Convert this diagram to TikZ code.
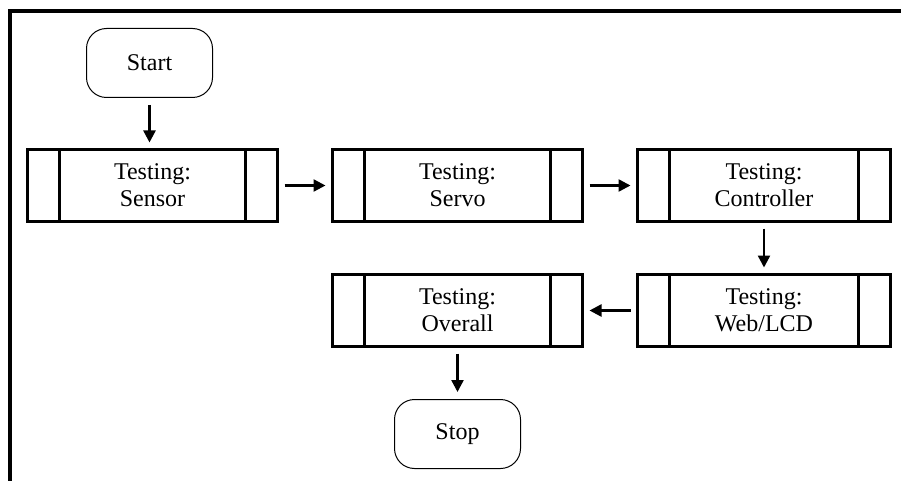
\documentclass[tikz,border=0pt]{standalone}
\usepackage{fontspec}
\setmainfont{Liberation Serif}
\usetikzlibrary{arrows.meta, positioning}
\tikzset{
    terminal/.style={
        rectangle,
        rounded corners=20pt,
        draw=black,
        line width=1pt,
        minimum width=126pt,
        minimum height=69pt,
        fill=white,
        font=\fontsize{24}{27}\selectfont
    },
    process/.style={
        rectangle,
        draw=black,
        line width=2.8pt,
        minimum width=250pt,
        minimum height=72pt,
        outer sep=0pt,
        align=center,
        fill=white,
        font=\fontsize{24}{27}\selectfont
    },
    partline/.style={
        draw=black,
        line width=2.2pt
    },
    flow/.style={
        draw=black,
        line width=2.4pt,
        shorten <=7pt,
        shorten >=7pt,
        -{Triangle[length=12pt,width=12pt]}
    },
    frame/.style={
        draw=black,
        line width=4pt
    }
}
\begin{document}
\begin{tikzpicture}[x=1pt, y=1pt, node distance=53pt and 55pt]
\useasboundingbox (0,0) rectangle (901,-481);

% Outer frame
\draw[frame] (10,-481) |- (901,-11);

% Start
\node[terminal] (start) at (149.5,-63) {Start};

% Testing stages
\node[process, below=51.5pt of start, xshift=3pt] (sensor) {Testing:\\Sensor};
\node[process, right=of sensor] (servo) {Testing:\\Servo};
\node[process, right=of servo, minimum width=253pt] (ctrl) {Testing:\\Controller};
\node[process, below=of ctrl, minimum width=253pt] (web) {Testing:\\Web/LCD};
\node[process, left=of web] (overall) {Testing:\\Overall};

% Stop
\node[terminal, below=52.5pt of overall] (stop) {Stop};

% Side bars
\foreach \n in {sensor, servo, ctrl, web, overall} {
    \draw[partline] ([xshift=32pt]\n.north west) -- ([xshift=32pt]\n.south west);
    \draw[partline] ([xshift=-32pt]\n.north east) -- ([xshift=-32pt]\n.south east);
}

% Flow
\draw[flow] (start.south) -- (start.south |- sensor.north);
\draw[flow] (sensor) -- (servo);
\draw[flow] (servo) -- (ctrl);
\draw[flow] (ctrl) -- (web);
\draw[flow] (web) -- (overall);
\draw[flow] (overall.south) -- (overall.south |- stop.north);

\end{tikzpicture}
\end{document}
